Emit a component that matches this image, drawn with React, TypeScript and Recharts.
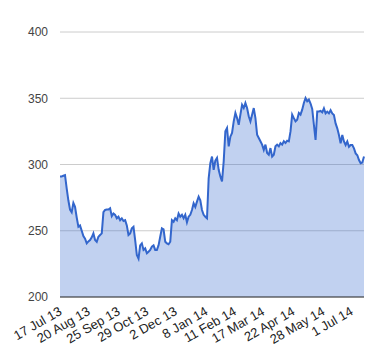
import { AreaChart, Area, XAxis, YAxis, CartesianGrid } from 'recharts';

// one sample every 2 days, starting 15 Jul 2013
const startDate = '2013-07-15';
const stepDays = 2;

const prices = [
  291, 291, 291.5, 292, 282, 273, 266, 264, 271, 268,
  260, 253, 254, 250, 246, 244, 240.5, 242, 243, 245,
  248, 243, 241.7, 245.5, 246.8, 248, 264, 265.7, 266, 266,
  267, 261, 263, 262, 259.4, 260.6, 258, 259.4, 257.4, 258,
  254, 246.8, 248, 251.8, 253, 243, 231.7, 229, 239, 240.5,
  235.5, 236.7, 233, 234.2, 235.5, 238, 239, 235.5, 235.5, 239,
  245.5, 251.8, 251, 241.7, 240.5, 239.8, 241.7, 258, 256.8, 259.4,
  258, 263, 260.6, 262, 259.4, 262, 256.4, 260.6, 262, 265.7,
  270.7, 268, 272, 275.7, 273, 265.7, 262, 260.6, 259.4, 289.6,
  301, 306, 296, 303, 305, 296, 291, 287.3, 302.4, 325,
  327.5, 313.7, 321, 323.8, 332.6, 338.9, 335, 330, 337.6, 345,
  342.6, 346.4, 342.6, 336.4, 332.6, 337.6, 342.6, 335, 322.5, 320,
  317.5, 315, 311, 315, 308.7, 307.4, 312.4, 306, 307.4, 313.7,
  315, 313.7, 316.2, 315, 317.5, 316.2, 318, 317.5, 325, 337.6,
  335, 332.6, 333.8, 338.9, 337.6, 341.4, 346.4, 350.2, 347.7, 349,
  346, 342, 330, 318.5, 340, 340, 340.4, 339.4, 342.4, 338.6,
  339.9, 338.6, 341, 338.6, 337.4, 331, 327.3, 322.3, 316, 322.3,
  317.4, 314.7, 317.4, 313.4, 314.7, 314.7, 312.2, 308.4, 307, 303.4,
  301, 301.5, 306,
];

const tickDates = [
  '2013-07-17', '2013-08-20', '2013-09-25', '2013-10-29', '2013-12-02', '2014-01-08',
  '2014-02-11', '2014-03-17', '2014-04-22', '2014-05-28', '2014-07-01',
];
const tickLabels = [
  '17 Jul 13', '20 Aug 13', '25 Sep 13', '29 Oct 13', '2 Dec 13', '8 Jan 14',
  '11 Feb 14', '17 Mar 14', '22 Apr 14', '28 May 14', '1 Jul 14',
];
const yTicks = [200, 250, 300, 350, 400];

const DAY = 86400000;
const t0 = Date.parse(startDate);
const data = prices.map((price, i) => ({ day: i * stepDays, price }));
const xTicks = tickDates.map((d) => Math.round((Date.parse(d) - t0) / DAY));

const font = '"Liberation Sans", Arial, sans-serif';

function DateTick(props: any) {
  const { x, y, payload } = props;
  const label = tickLabels[xTicks.indexOf(payload.value)];
  const tx = x + 1;
  const ty = y + 9;
  return (
    <text
      x={tx}
      y={ty}
      transform={`rotate(-30 ${tx} ${ty})`}
      textAnchor="end"
      fontSize={13}
      fontFamily={font}
      fill="#222"
    >
      {label}
    </text>
  );
}

export default function App() {
  return (
    <div style={{ position: 'absolute', left: 0, top: 0, width: 380, height: 360, background: '#fff' }}>
      <AreaChart
        width={380}
        height={360}
        data={data}
        margin={{ top: 32, right: 16, bottom: 0, left: 0 }}
      >
        <CartesianGrid vertical={false} stroke="#cccccc" />
        <XAxis
          dataKey="day"
          type="number"
          domain={[0, (prices.length - 1) * stepDays]}
          ticks={xTicks}
          interval={0}
          height={63}
          tickLine={false}
          axisLine={{ stroke: '#333' }}
          tick={<DateTick />}
        />
        <YAxis
          domain={[200, 400]}
          ticks={yTicks}
          width={60}
          tickLine={false}
          axisLine={false}
          tickMargin={6}
          tick={{ fontSize: 12, fill: '#444', fontFamily: font }}
        />
        <Area
          type="linear"
          dataKey="price"
          stroke="#3366cc"
          strokeWidth={2}
          fill="#3366cc"
          fillOpacity={0.3}
          dot={false}
          activeDot={false}
          isAnimationActive={false}
        />
      </AreaChart>
    </div>
  );
}
